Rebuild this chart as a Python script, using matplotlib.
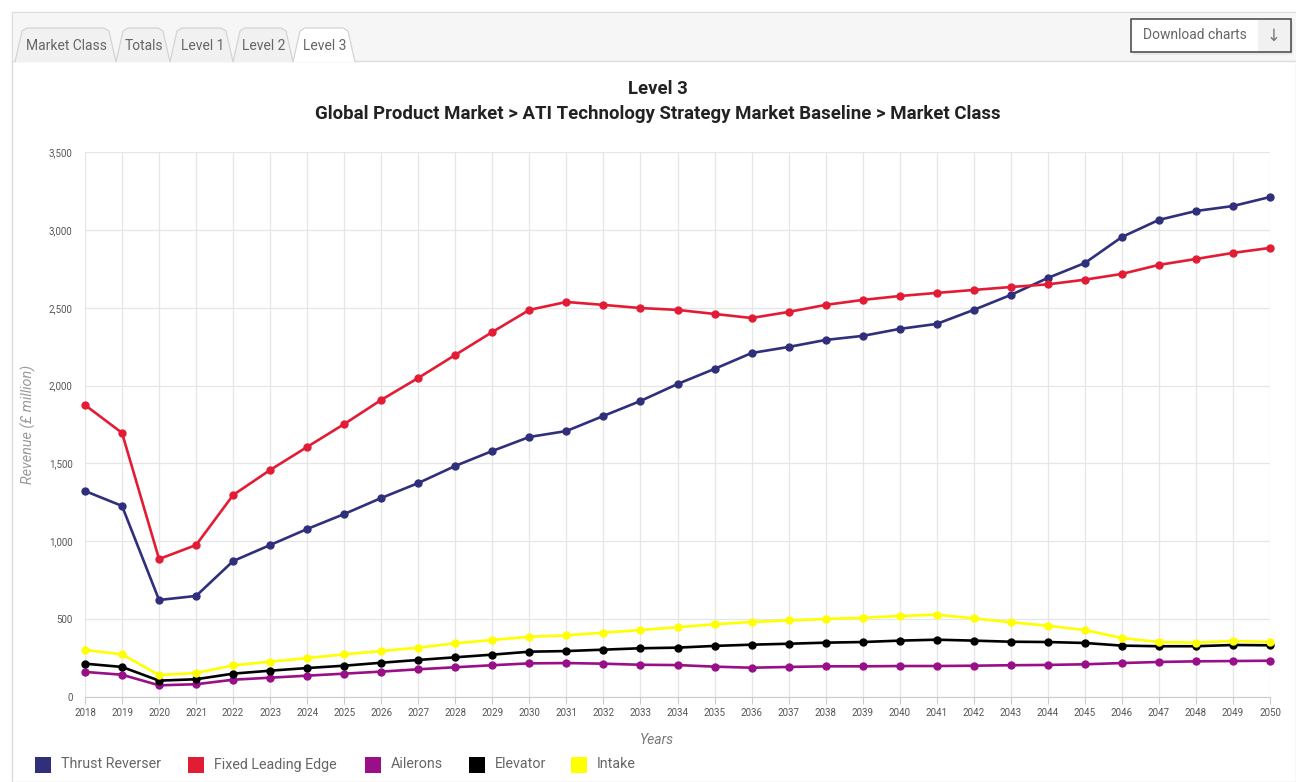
import numpy as np
import matplotlib.pyplot as plt
from matplotlib.patches import Rectangle, Polygon
from matplotlib.ticker import StrMethodFormatter

plt.rcParams['font.family'] = ['Roboto', 'DejaVu Sans']

years = list(range(2018, 2051))

thrust_reverser = [1323, 1227, 623, 649, 873, 976, 1079, 1175, 1278, 1374, 1484,
                   1580, 1670, 1708, 1805, 1901, 2010, 2107, 2209, 2248, 2293, 2319,
                   2364, 2396, 2486, 2582, 2691, 2787, 2954, 3064, 3121, 3153, 3211]
fixed_leading_edge = [1875, 1696, 886, 976, 1297, 1458, 1606, 1753, 1908, 2049, 2197,
                      2344, 2486, 2537, 2518, 2498, 2486, 2460, 2434, 2473, 2518, 2550,
                      2575, 2595, 2614, 2633, 2650, 2680, 2717, 2775, 2813, 2852, 2884]
ailerons = [161, 143, 75, 82, 111, 124, 137, 150, 163, 178, 191, 204, 216, 218, 214,
            207, 205, 195, 188, 193, 197, 197, 199, 199, 201, 204, 206, 210, 218, 225,
            229, 231, 233]
elevator = [214, 193, 105, 114, 150, 169, 186, 201, 220, 238, 255, 272, 291, 295, 304,
            313, 317, 328, 336, 342, 349, 353, 362, 368, 362, 355, 353, 347, 330, 326,
            326, 334, 332]
intake = [302, 274, 141, 154, 203, 227, 250, 274, 295, 317, 345, 366, 387, 396, 413,
          430, 448, 467, 482, 492, 501, 509, 520, 529, 505, 480, 458, 430, 379, 353,
          349, 360, 353]

series_names = ["Thrust Reverser", "Fixed Leading Edge", "Ailerons", "Elevator", "Intake"]
series_values = [thrust_reverser, fixed_leading_edge, ailerons, elevator, intake]
series_colors = ["#2f2f7c", "#e31c35", "#990f87", "#000000", "#ffff00"]

tab_labels = ["Market Class", "Totals", "Level 1", "Level 2", "Level 3"]

W, H = 1296, 782
fig = plt.figure(figsize=(W / 100, H / 100), dpi=100)


def fx(x):
    return x / W


def fy(y):
    return 1 - y / H


# outer panel and tab strip
fig.patches.append(Rectangle((fx(12), fy(782)), fx(1296) - fx(12), fy(12) - fy(782),
                             transform=fig.transFigure, facecolor="white",
                             edgecolor="#dcdcdc", lw=1, zorder=-3))
fig.patches.append(Rectangle((fx(13), fy(61)), fx(1296) - fx(13), fy(13) - fy(61),
                             transform=fig.transFigure, facecolor="#f6f6f6",
                             edgecolor="none", zorder=-2))
fig.add_artist(plt.Line2D([fx(12), fx(1296)], [fy(61), fy(61)],
                          transform=fig.transFigure, color="#dcdcdc", lw=1, zorder=-1))

tab_spans = [(15, 116), (116, 170), (170, 233), (233, 293), (293, 355)]
for i, (label, (x0, x1)) in enumerate(zip(tab_labels, tab_spans)):
    active = i == len(tab_labels) - 1
    pts = [(x0, 62), (x0 + 7, 31), (x0 + 12, 28), (x1 - 12, 28), (x1 - 7, 31), (x1, 62)]
    fig.patches.append(Polygon([(fx(a), fy(b)) for a, b in pts], closed=False,
                               transform=fig.transFigure,
                               facecolor="white" if active else "#f1f1f1",
                               edgecolor="#d4d4d4", lw=0.9, zorder=1))
    fig.text(fx((x0 + x1) / 2 + 1), fy(46), label, ha="center", va="center",
             fontsize=10, color="#666666", zorder=2)

# download button
fig.patches.append(Rectangle((fx(1133), fy(55)), fx(160), fy(0) - fy(33),
                             transform=fig.transFigure, facecolor="#e9e9e9",
                             edgecolor="none", zorder=1))
fig.patches.append(Rectangle((fx(1258), fy(52)), fx(33), fy(0) - fy(33),
                             transform=fig.transFigure, facecolor="#f1f1f1",
                             edgecolor="none", zorder=2))
fig.patches.append(Rectangle((fx(1131.5), fy(51.5)), fx(126), fy(0) - fy(32),
                             transform=fig.transFigure, facecolor="white",
                             edgecolor="none", zorder=2))
fig.patches.append(Rectangle((fx(1131), fy(52)), fx(160), fy(0) - fy(33),
                             transform=fig.transFigure, facecolor="none",
                             edgecolor="#444444", lw=1.1, zorder=3))
fig.text(fx(1195), fy(35), "Download charts", ha="center", va="center",
         fontsize=10, color="#666666", zorder=4)
fig.text(fx(1274), fy(36), "\u2193", ha="center", va="center",
         fontsize=12, color="#777777", zorder=4)

# titles
fig.text(fx(658), fy(88.5), "Level 3", ha="center", va="center",
         fontsize=13.3, fontweight="bold", color="#222222")
fig.text(fx(658), fy(114), "Global Product Market > ATI Technology Strategy Market Baseline > Market Class",
         ha="center", va="center", fontsize=13.4, fontweight="bold", color="#222222")

ax = fig.add_axes([fx(85), fy(697), fx(1270) - fx(85), fy(152) - fy(697)])
ax.set_zorder(2)

for name, vals, col in zip(series_names, series_values, series_colors):
    ax.plot(years, vals, color=col, lw=1.9, marker="o", markersize=5,
            label=name, zorder=3, solid_joinstyle="round", clip_on=False)

ax.set_xlim(2018, 2050)
ax.set_ylim(0, 3500)
ax.set_xticks(years)
ax.set_xticklabels([str(y) for y in years])
ax.set_yticks(np.arange(0, 3501, 500))
ax.yaxis.set_major_formatter(StrMethodFormatter("{x:,.0f}"))
ax.grid(True, color="#e6e6e6", lw=0.9, zorder=0)
ax.set_axisbelow(True)
for side in ["top", "right", "left"]:
    ax.spines[side].set_visible(False)
ax.spines["bottom"].set_color("#cccccc")
ax.tick_params(axis="x", length=5, color="#cccccc", labelsize=7, labelcolor="#555555", pad=3)
ax.tick_params(axis="y", length=0, labelsize=7, labelcolor="#555555", pad=9)

ax.set_ylabel("Revenue (\u00a3 million)", fontsize=10.4, style="italic", color="#999999")
ax.yaxis.set_label_coords(-0.041, 0.5)
ax.set_xlabel("Years", fontsize=10, style="italic", color="#777777")
ax.xaxis.set_label_coords(0.483, -0.066)

# legend row
legend_x = [35, 188, 365, 469, 571]
for name, col, x0 in zip(series_names, series_colors, legend_x):
    fig.patches.append(Rectangle((fx(x0), fy(773)), fx(16), fy(0) - fy(16),
                                 transform=fig.transFigure, facecolor=col,
                                 edgecolor="none"))
    fig.text(fx(x0 + 26), fy(764.5), name, ha="left", va="center",
             fontsize=10.3, color="#666666")

fig.savefig("out.png", dpi=100)
